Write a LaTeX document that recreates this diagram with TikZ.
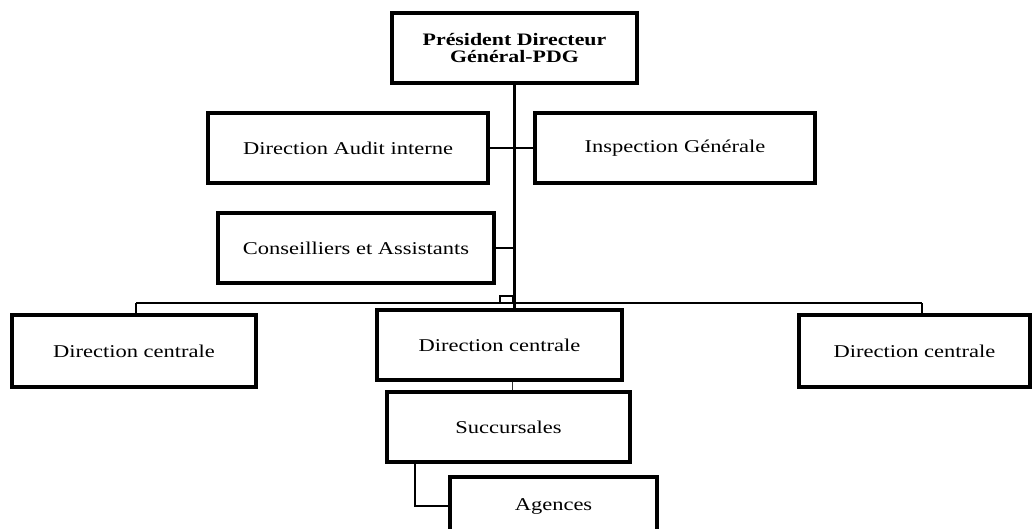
\documentclass[tikz,border=0pt]{standalone}
\usepackage{fontspec}
\setmainfont{Liberation Serif}[FakeStretch=1.25]
\begin{document}
\begin{tikzpicture}[x=1pt,y=-1pt,
  orgbox/.style={draw=black,line width=3.2pt,fill=white,rectangle,inner sep=0pt,
    font=\fontsize{18}{16.5}\selectfont,align=center},
  thinln/.style={draw=black,line width=1.1pt},
  trunkln/.style={draw=black,line width=2.8pt}]
\useasboundingbox (0,0) rectangle (1032,528);
\clip (0,0) rectangle (1032,528);
\fill[white] (0,0) rectangle (1032,528);
% trunk
\coordinate (trunkend) at (514.5,309);
\node[orgbox,minimum width=245pt,minimum height=70pt,font=\fontsize{17.5}{16.5}\selectfont\bfseries] (pdg) at (514.5,48) {Président Directeur\\Général-PDG};
\node[orgbox,minimum width=280pt,minimum height=70pt] (audit) at (348,148) {Direction Audit interne};
\node[orgbox,minimum width=280pt,minimum height=70pt] (insp) at (675,148) {Inspection Générale};
\node[orgbox,minimum width=276pt,minimum height=70pt] (cons) at (356,248) {Conseilliers et Assistants};
\draw[thinln] (audit.east) -- (insp.west);
\draw[thinln] (cons.east) -- (cons.east -| pdg.south);
\draw[trunkln] (pdg.south) -- (trunkend);
% bus
\coordinate (busL) at (136,303);
\coordinate (busR) at (922,303);
\draw[thinln] (busL) -- (busR);
\draw[thinln] (500,303) rectangle (513,296);
\node[orgbox,minimum width=244pt,minimum height=72pt] (dcl) at (134,351) {Direction centrale};
\node[orgbox,minimum width=245pt,minimum height=70pt] (dcm) at (499.5,345) {Direction centrale};
\node[orgbox,minimum width=231pt,minimum height=72pt] (dcr) at (914.5,351) {Direction centrale};
\draw[thinln] (busL) -- (busL |- dcl.north);
\draw[thinln] (busR) -- (busR |- dcr.north);
\node[orgbox,minimum width=243pt,minimum height=70pt] (succ) at (508.5,427) {Succursales};
\draw[line width=1.5pt,draw=black!80] ([xshift=13pt]dcm.south) -- ([xshift=4pt]succ.north);
\node[orgbox,minimum width=207pt,minimum height=58pt] (ag) at (553.5,506) {Agences};
\draw[thinln] ([xshift=-93.5pt]succ.south) |- (ag.west);
\end{tikzpicture}
\end{document}
